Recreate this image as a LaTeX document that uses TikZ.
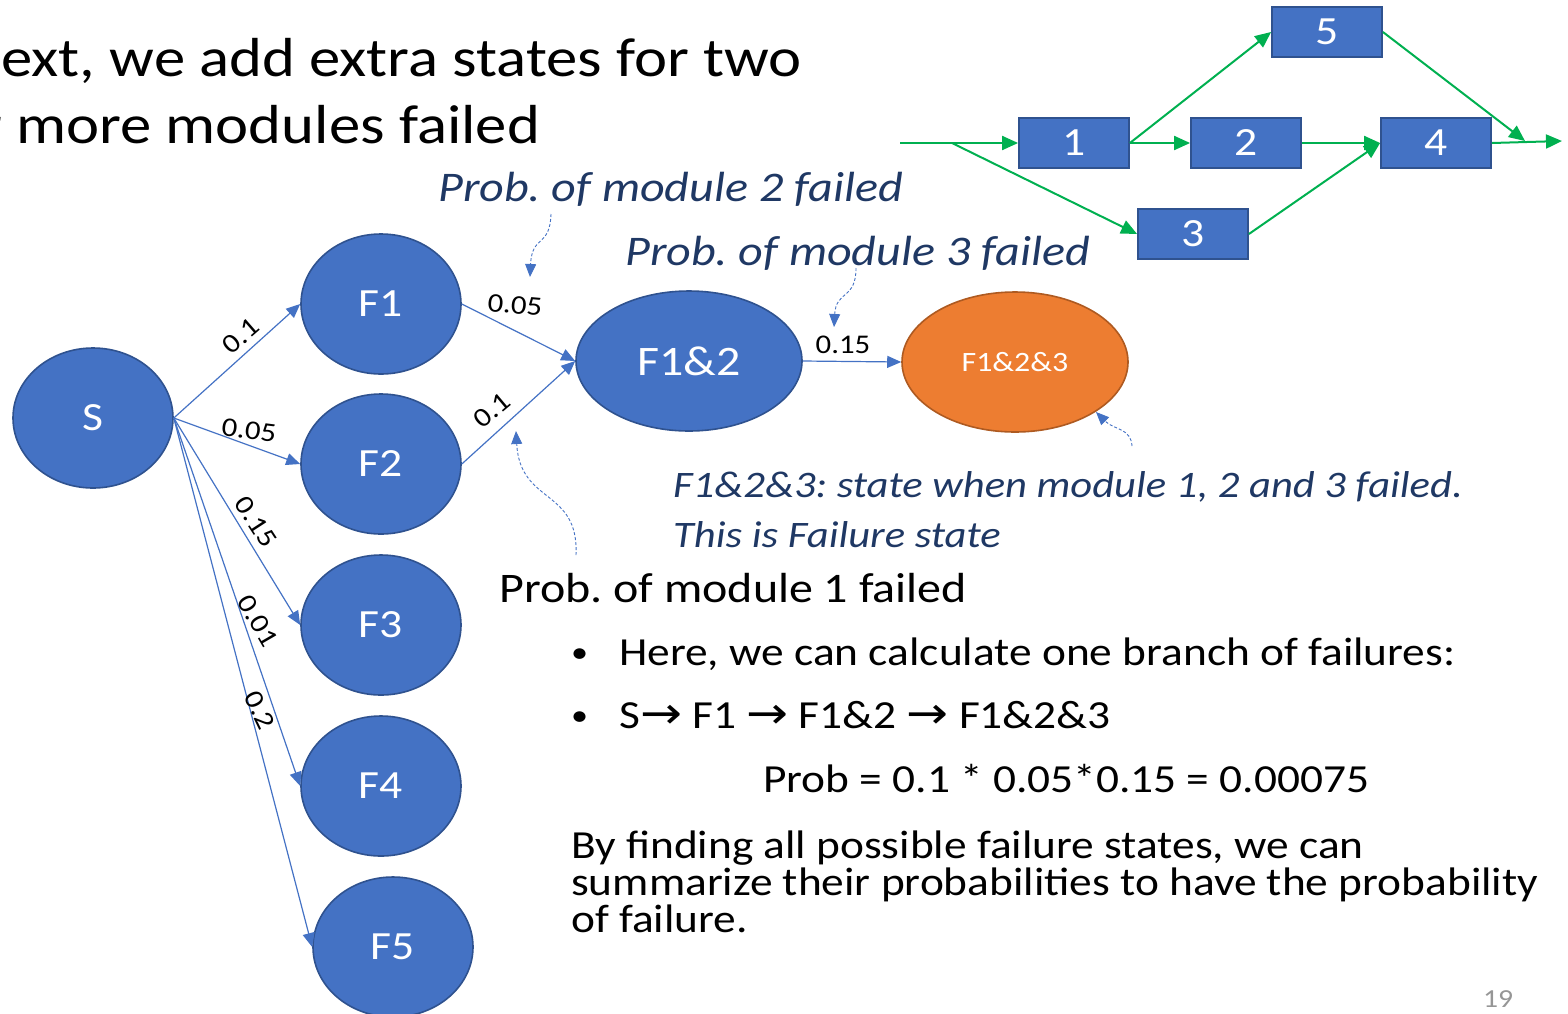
\documentclass[tikz,border=0pt]{standalone}
\usepackage{fontspec}
\setmainfont{Carlito}[FakeStretch=1.14]
\newfontfamily\symfont{DejaVu Sans}[FakeStretch=1.14]
\usetikzlibrary{shapes.geometric,arrows.meta}
\frenchspacing

\definecolor{nodeblue}{RGB}{68,114,196}
\definecolor{nodeedge}{RGB}{47,82,143}
\definecolor{failfill}{RGB}{237,125,49}
\definecolor{failedge}{RGB}{174,90,33}
\definecolor{flowgreen}{RGB}{0,176,80}
\definecolor{notenavy}{RGB}{31,56,100}
\definecolor{pagegray}{RGB}{150,150,150}

\newcommand{\fs}[1]{\fontsize{#1}{#1}\selectfont}
\newcommand{\arr}{{\symfont\fontsize{44}{44}\selectfont →}}

\begin{document}
\begin{tikzpicture}[x=1pt,y=-1pt,
  state/.style={ellipse, draw=nodeedge, fill=nodeblue, line width=1.6pt,
    inner sep=0pt, text=white, minimum width=160pt, minimum height=140pt},
  failstate/.style={ellipse, draw=failedge, fill=failfill, line width=1.6pt,
    inner sep=0pt, text=white, minimum width=226pt, minimum height=140pt},
  block/.style={rectangle, draw=nodeedge, fill=nodeblue, line width=1.8pt,
    minimum width=110pt, minimum height=50pt, inner sep=0pt, text=white,
    font=\fs{40}},
  trans/.style={draw=nodeblue, line width=1.2pt, -{Triangle[length=14pt,width=12pt]}},
  flow/.style={draw=flowgreen, line width=2pt, -{Triangle[length=16pt,width=14pt]}},
  note/.style={draw=nodeblue, line width=0.9pt, dash pattern=on 3pt off 2pt,
    -{Triangle[length=13pt,width=11pt]}},
  prob/.style={font=\fs{27}, inner sep=0pt},
  txt/.style={anchor=base west, inner sep=0pt},
  body/.style={txt, font=\fs{39.8}},
  dot/.style={txt, font=\fs{30}},
  remark/.style={txt, font=\itshape\fs{42.2}, text=notenavy},
]
\useasboundingbox (0,0) rectangle (1568,1013);
\clip (0,0) rectangle (1568,1013);

% heading
\node[txt, font=\fs{55}] (title1) at (1,76) {ext, we add extra states for two};
\node[txt, font=\fs{55}] (title2) at (-20,143) {r more modules failed};

% reliability block diagram
\node[block] (b5) at (1327,32) {5};
\node[block] (b1) at (1074,143) {1};
\node[block] (b2) at (1246,143) {2};
\node[block] (b4) at (1436,143) {4};
\node[block] (b3) at (1193,234) {3};
\coordinate (src) at (900,143);
\coordinate (fork) at (952,143);
\coordinate (join) at (1525,141);
\coordinate (sink) at (1562,141);
\draw[flow] (src) -- (b1.west);
\draw[flow] (fork) -- (b3.west);
\draw[flow] (b1.east) -- (b5.west);
\draw[flow] (b1.east) -- (b2.west);
\draw[flow] (b2.east) -- (b4.west);
\draw[flow] (b3.east) -- (b4.west);
\draw[flow] (b5.east) -- (join);
\draw[flow] (b4.east) -- (sink);

% state graph
\node[state, font=\fs{40}] (S) at (93,418) {S};
\node[state, font=\fs{40}] (F1) at (381,304) {F1};
\node[state, font=\fs{40}] (F2) at (381,464) {F2};
\node[state, font=\fs{40}] (F3) at (381,625) {F3};
\node[state, font=\fs{40}] (F4) at (381,786) {F4};
\node[state, font=\fs{40}] (F5) at (393,947) {F5};
\node[state, minimum width=226pt, font=\fs{42}] (F12) at (689,361) {F1\&2};
\node[failstate, font=\fs{28}] (F123) at (1015,362) {F1\&2\&3};

\draw[trans] (S.east) -- (F1.west);
\draw[trans] (S.east) -- (F2.west);
\draw[trans] (S.east) -- (F3.west);
\draw[trans] (S.east) -- (F4.west);
\draw[trans] (S.east) -- (F5.west);
\draw[trans] (F1.east) -- (F12.west);
\draw[trans] (F2.east) -- (F12.west);
\draw[trans] (F12.east) -- (F123.west);

% transition probabilities
\node[prob, rotate=41] (p1) at (241,336) {0.1};
\node[prob, rotate=-7] (p2) at (249,430) {0.05};
\node[prob, rotate=-57] (p3) at (256,522) {0.15};
\node[prob, rotate=-60] (p4) at (258,621) {0.01};
\node[prob, rotate=-64] (p5) at (260,710) {0.2};
\node[prob, rotate=-5] (p12a) at (515,305) {0.05};
\node[prob, rotate=40] (p12b) at (492,410) {0.1};
\node[prob] (p123) at (843,345) {0.15};

% remarks
\node[remark] (r2) at (438,201) {Prob. of module 2 failed};
\node[remark] (r3) at (625,265) {Prob. of module 3 failed};
\node[remark, font=\itshape\fs{37.4}] (rf1) at (673,497) {F1\&2\&3: state when module 1, 2 and 3 failed.};
\node[remark, font=\itshape\fs{37.4}] (rf2) at (673,547) {This is Failure state};
\node[txt, font=\fs{42.1}] (r1) at (499,602) {Prob. of module 1 failed};

\coordinate (c2a) at (551,214);
\coordinate (c2b) at (530,277);
\draw[note] (c2a) .. controls (550,248) and (532,234) .. (c2b);
\coordinate (c3a) at (856,268);
\coordinate (c3b) at (834,327);
\draw[note] (c3a) .. controls (856,300) and (836,290) .. (c3b);
\coordinate (cfa) at (1132,446);
\coordinate (cfb) at (1096,412);
\draw[note] (cfa) .. controls (1131,428) and (1114,430) .. (cfb);
\coordinate (c1a) at (576,555);
\coordinate (c1b) at (516,431);
\draw[note] (c1a) .. controls (579,488) and (520,505) .. (c1b);

% explanation
\node[dot] (d1) at (571,662) {•};
\node[body] (i1) at (619,665) {Here, we can calculate one branch of failures:};
\node[dot] (d2) at (571,725) {•};
\node[body] (i2) at (619,728) {S\arr{} F1 \arr{} F1\&2 \arr{} F1\&2\&3};
\node[body] (calc) at (763,792) {Prob = 0.1 * 0.05*0.15 = 0.00075};
\node[body] (s1) at (571,858) {By finding all possible failure states, we can};
\node[body] (s2) at (571,895) {summarize their probabilities to have the probability};
\node[body] (s3) at (571,932) {of failure.};

\node[txt, font=\fs{26}, text=pagegray] (pg) at (1483,1007) {19};
\end{tikzpicture}
\end{document}
